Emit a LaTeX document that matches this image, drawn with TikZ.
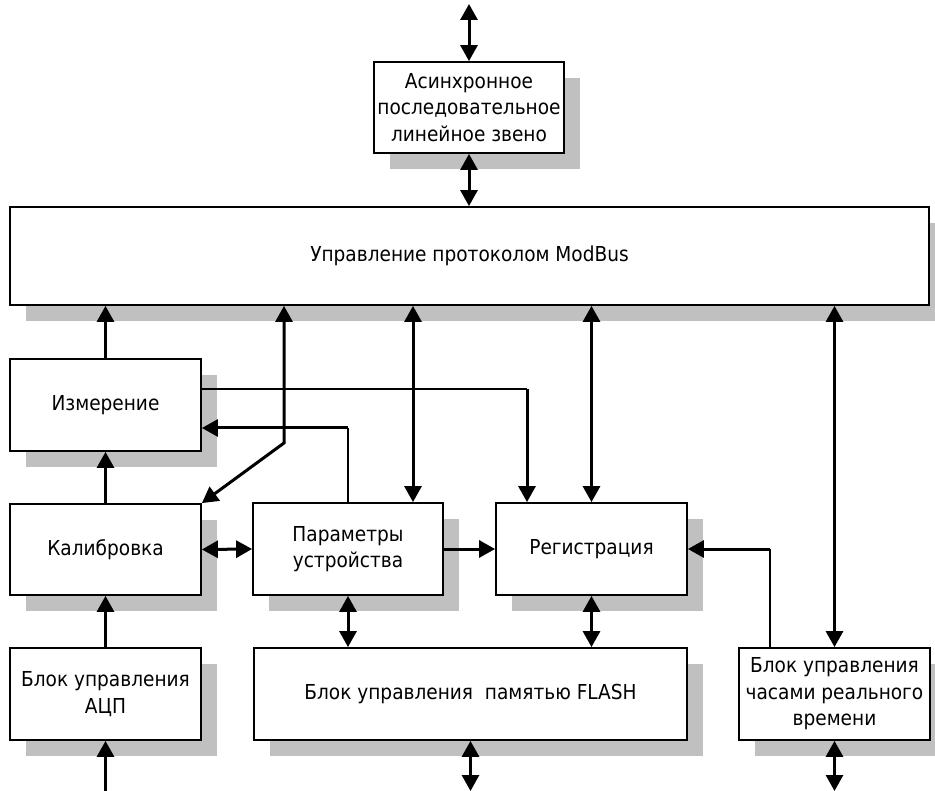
\documentclass[tikz,border=0pt]{standalone}
\usepackage{fontspec}
\setmainfont{DejaVu Sans}[FakeStretch=0.9]
\usetikzlibrary{arrows.meta,shadows}
\definecolor{shadowgray}{RGB}{192,192,192}
\tikzset{
  blk/.style={draw=black, line width=1.8pt, fill=white, inner sep=0pt, align=center,
    font=\fontsize{20.6}{26.5}\selectfont,
    general shadow={fill=shadowgray, shadow xshift=16pt, shadow yshift=-16pt}},
  tri/.tip={Triangle[length=16pt,width=17pt]},
  conn/.style={line width=3pt},
  thinconn/.style={line width=1.3pt}
}
\begin{document}
\begin{tikzpicture}[x=1pt,y=-1pt]
\useasboundingbox (0,0) rectangle (935,791);
% boxes
\node[blk, minimum width=190pt, minimum height=91pt] (async) at (469,107.5)
  {Асинхронное\\последовательное\\линейное звено};
\node[blk, minimum width=919pt, minimum height=98pt] (modbus) at (469.5,256)
  {Управление протоколом ModBus};
\node[blk, minimum width=191pt, minimum height=92pt] (meas) at (105.5,405) {Измерение};
\node[blk, minimum width=191pt, minimum height=91pt] (calib) at (105.5,549.5) {Калибровка};
\node[blk, minimum width=191pt, minimum height=92pt] (adc) at (105.5,694) {Блок управления\\АЦП};
\node[blk, minimum width=190pt, minimum height=92pt] (param) at (348,549) {Параметры\\устройства};
\node[blk, minimum width=191pt, minimum height=92pt] (reg) at (591.5,549) {Регистрация};
\node[blk, minimum width=433pt, minimum height=92pt] (flash) at (470.5,694) {Блок управления~~памятью FLASH};
\node[blk, minimum width=191pt, minimum height=92pt] (clock) at (834.5,694)
  {Блок управления\\часами реального\\времени};
% free ends and bends
\coordinate (topend) at (469,4);
\coordinate (adcend) at (105.5,791);
\coordinate (flashend) at (470.5,791);
\coordinate (clockend) at (834.5,791);
\coordinate (bend1) at (284,443);
\coordinate (j1) at (348,428);
\coordinate (j2) at (527,389);
\coordinate (j3) at (770,549);
% connectors
\draw[conn, tri-tri] (topend) -- (async.north);
\draw[conn, tri-tri] (async.south) -- (async.south |- modbus.north);
\draw[conn, -tri] (meas.north) -- (meas.north |- modbus.south);
\draw[conn, -tri] (calib.north) -- (meas.south);
\draw[conn, -tri] (adc.north) -- (calib.south);
\draw[conn, -tri] (adcend) -- (adc.south);
\draw[conn, tri-tri] (calib.east) -- (param.west);
\draw[conn, -tri] (param.east) -- (reg.west);
\draw[conn, tri-tri] (param.south) -- (param.south |- flash.north);
\draw[conn, tri-tri] (reg.south) -- (reg.south |- flash.north);
\draw[conn, tri-tri] (flash.south) -- (flashend);
\draw[conn, tri-tri] (clock.south) -- (clockend);
\draw[conn, tri-tri] (clock.north |- modbus.south) -- (clock.north);
\draw[conn, tri-tri] (reg.north |- modbus.south) -- (reg.north);
\draw[conn, tri-tri] ([xshift=65pt]param.north |- modbus.south) -- ([xshift=65pt]param.north);
\draw[conn, tri-tri, line join=miter] (bend1 |- modbus.south) -- (bend1) -- (calib.north east);
\draw[thinconn] (param.north) -- (j1);
\draw[conn, -tri] (j1) -- (j1 -| meas.east);
\draw[thinconn] (j2 -| meas.east) -- (j2);
\draw[conn, -tri] (j2) -- (j2 |- reg.north);
\draw[thinconn] (j3 |- clock.north) -- (j3);
\draw[conn, -tri] (j3) -- (reg.east);
\end{tikzpicture}
\end{document}
